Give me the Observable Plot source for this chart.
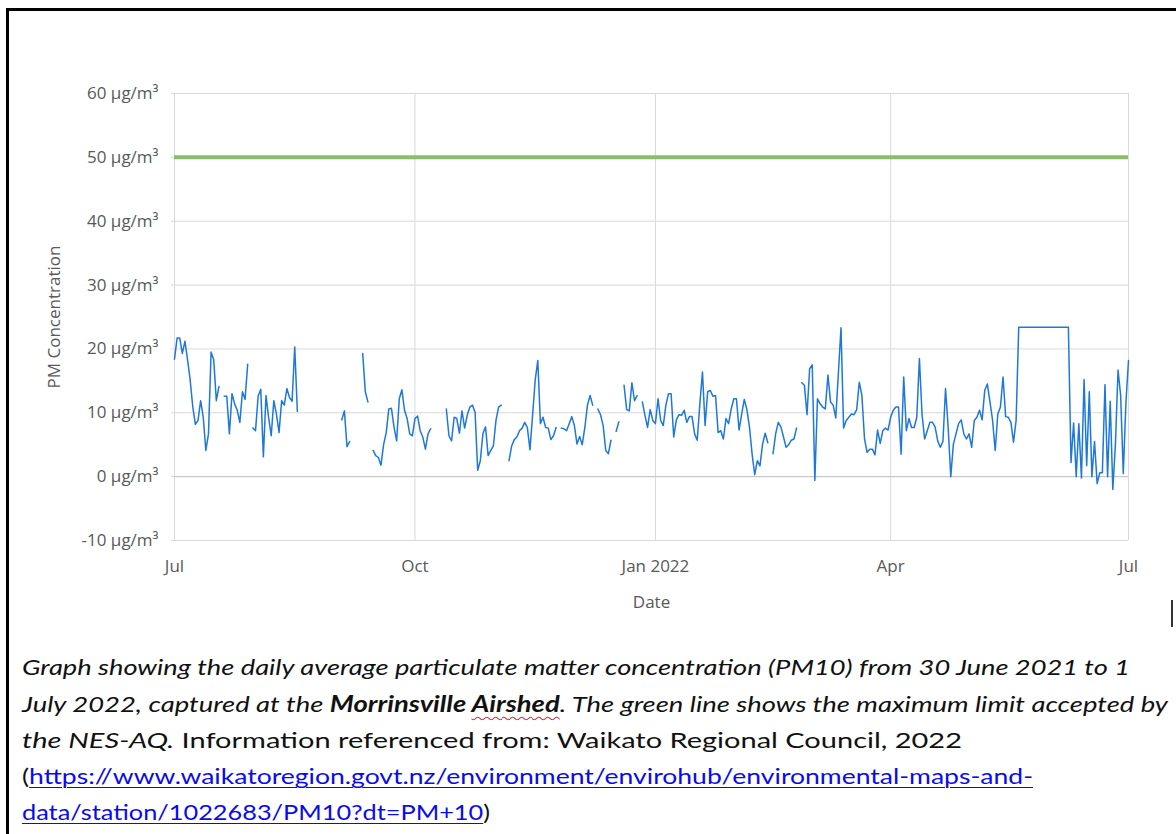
<!DOCTYPE html>
<html>
<head>
<meta charset="utf-8">
<script src="https://cdn.jsdelivr.net/npm/d3@7"></script>
<script src="https://cdn.jsdelivr.net/npm/@observablehq/plot@0.6"></script>
<style>
  html, body { margin: 0; padding: 0; background: #fff; }
  body { width: 1176px; height: 834px; position: relative; overflow: hidden; }
  #chart { position: absolute; left: 0; top: 0; }
  .border-top { position: absolute; left: 6px; top: 8px; width: 1170px; height: 3px; background: #000; }
  .border-left { position: absolute; left: 6px; top: 8px; width: 3px; height: 826px; background: #000; }
  .cursor { position: absolute; left: 1171px; top: 600px; width: 2px; height: 27px; background: #333; }
  .cap { position: absolute; left: 22px; top: 650px; white-space: nowrap; font-family: Lato, "Open Sans", sans-serif;
         font-size: 22px; color: #111; transform-origin: 0 0; line-height: 1.2; }
  .cap i { font-style: italic; }
  .cap a { color: #0a0af0; text-decoration: underline; text-decoration-thickness: 1px; text-underline-offset: 3px; }
  .sq { text-decoration: underline wavy #e03030; text-decoration-thickness: 1px; text-underline-offset: 4px; text-decoration-skip-ink: none; }
  .bl { display: inline-block; width: 0; height: 0; vertical-align: baseline; }
</style>
</head>
<body>
<div id="chart"></div>
<div class="border-top"></div>
<div class="border-left"></div>
<div class="cursor"></div>

<div class="cap" id="c1"><span class="bl"></span><i>Graph showing the daily average particulate matter concentration (PM10) from 30 June 2021 to 1</i></div>
<div class="cap" id="c2"><span class="bl"></span><i>July 2022, captured at the <b>Morrinsville <span class="sq">Airshed</span></b>. The green line shows the maximum limit accepted by</i></div>
<div class="cap" id="c3"><span class="bl"></span><i>the NES-AQ.</i> Information referenced from: Waikato Regional Council, 2022</div>
<div class="cap" id="c4"><span class="bl"></span>(<a>https://www.waikatoregion.govt.nz/environment/envirohub/environmental-maps-and-</a></div>
<div class="cap" id="c5"><span class="bl"></span><a>data/station/1022683/PM10?dt=PM+10</a>)</div>

<script>
// ---- Data (daily average PM10, µg/m³; null = no data) ----
const seriesStart = [2021, 6, 1]; // 1 July 2021 (UTC year, monthIndex, day)

const pmJulSep2021 = [
  18.4, 21.7, 21.7, 19.3, 21.2, 18.3, 15.1, 10.9, 8.2, 8.8, 11.9, 9.3, 4.1, 6.7, 19.5, 18.3, 11.9, 14.1,
  null,
  12.6, 12.6, 6.7, 13.0, 11.4, 10.4, 8.5, 13.3, 12.1, 17.6,
  null,
  7.6, 7.2, 12.6, 13.7, 3.1, 12.7, 9.3, 6.4, 11.9, 9.8, 6.9, 11.9, 11.2, 13.8, 12.4, 11.8, 20.3, 10.2,
  null, null, null, null, null, null, null, null, null, null, null, null, null, null, null, null,
  8.9, 10.3, 4.7, 5.5,
  null, null, null, null,
  19.3, 13.3, 11.7,
  null,
  4.1, 3.3, 3.0, 1.8, 5.0, 6.9, 10.6, 10.7, 7.7, 5.6, 12.2, 13.6, 10.4, 9.1, 6.7, 6.4
];

const pmOctDec2021 = [
  9.1, 9.5, 7.2, 6.2, 4.3, 6.7, 7.5,
  null, null, null, null, null,
  10.6, 6.4, 5.6, 9.3, 9.1, 6.8, 10.3, 7.6, 9.6, 10.9, 11.2, 10.1, 1.0, 2.5, 6.7, 7.8, 3.3, 4.1, 4.8, 8.8, 10.9, 11.2,
  null, null,
  2.5, 4.8, 5.8, 6.2, 7.2, 7.6, 8.5, 7.7, 4.2, 9.6, 15.1, 18.2, 8.3, 9.3, 7.7, 7.6, 5.8, 6.4, 7.7,
  null,
  7.6, 7.5, 7.2, 8.3, 9.4, 8.0, 5.1, 6.3, 5.0, 7.7, 11.2, 12.7, 11.2,
  null,
  10.6, 9.7, 8.0, 4.1, 3.6, 5.7,
  null,
  7.1, 8.6,
  null,
  14.3, 10.5, 10.3, 14.7, 11.9, 12.7,
  null,
  11.7, 9.6, 7.7, 10.5, 8.8
];

const pmJanMar2022 = [
  8.3, 12.2, 8.8, 8.0, 11.2,
  13.0, 13.0, 6.2, 8.9, 9.7, 9.6, 10.4, 8.5, 9.4, 9.4, 6.7, 5.7, 11.4, 16.4, 8.0, 13.3, 13.5, 12.6, 12.7, 6.9,
  7.2, 5.9, 9.1, 8.3, 10.6, 12.2, 12.2, 7.3, 9.8, 12.1, 10.5, 7.7, 3.5, 0.3, 2.5, 1.7, 5.1, 6.8, 5.3,
  null,
  3.6, 6.7, 8.5, 7.8, 6.2, 4.6, 5.0, 5.7, 5.9, 7.6,
  null,
  14.7, 14.3, 9.7, 16.9, 17.5, -0.6, 12.2, 11.4, 10.9, 10.6, 15.9, 11.7, 11.2, 9.2, 16.2, 23.3, 7.6, 8.8, 9.3, 9.8,
  9.7, 10.5, 14.8, 12.7, 5.9, 3.8, 4.3, 4.3, 3.4, 7.3, 5.2, 7.2, 7.6, 7.3
];

const pmAprJun2022 = [
  9.3, 10.4, 10.9, 10.9, 3.5, 15.6, 7.2, 9.1, 7.7, 7.7, 9.3, 18.5, 9.8, 5.9, 7.2, 8.5, 8.5, 7.8, 5.6, 4.6,
  5.5, 13.8, 7.7, 0.0, 5.1, 6.7, 8.3, 8.9, 6.7, 5.9,
  6.7, 4.6, 8.8, 9.3, 10.4, 8.9, 13.5, 14.5, 11.7, 8.8, 4.1, 9.8, 10.9, 15.6, 9.4, 9.3, 8.5, 5.4, 8.8,
  23.4, 23.4, 23.4, 23.4, 23.4, 23.4, 23.4, 23.4, 23.4, 23.4, 23.4, 23.4, 23.4, 23.4, 23.4, 23.4, 23.4, 23.4, 23.4, 23.4,
  2.2, 8.4, 0.0, 8.3, -0.2, 15.2, 1.7, 13.3, 0.0, 5.5, -1.1, 0.6, 0.6, 14.4, 0.0, 11.8, -2.0, 5.1, 16.7, 12.7, 0.5, 11.5
];

const pmJul2022 = [18.2];

const limitNESAQ = [50];
const yTicks = [-10, 0, 10, 20, 30, 40, 50, 60];
const yUnit = "µg/m³";
const xTickDates = ["2021-07-01", "2021-10-01", "2022-01-01", "2022-04-01", "2022-07-01"];
const xTickLabels = ["Jul", "Oct", "Jan 2022", "Apr", "Jul"];

// ---- Build table ----
const allValues = [].concat(pmJulSep2021, pmOctDec2021, pmJanMar2022, pmAprJun2022, pmJul2022);
const pmData = allValues.map((v, i) => ({
  date: new Date(Date.UTC(seriesStart[0], seriesStart[1], seriesStart[2] + i)),
  value: v
}));
const xTicks = xTickDates.map(s => new Date(s + "T00:00:00Z"));
const xLabelOf = d => xTickLabels[xTicks.findIndex(t => +t === +d)];

const chart = Plot.plot({
  width: 1176,
  height: 620,
  marginLeft: 174,
  marginRight: 48,
  marginTop: 93,
  marginBottom: 80,
  style: { fontFamily: "'Open Sans', sans-serif", fontSize: "17px", color: "#595959", background: "transparent", overflow: "visible" },
  x: { type: "utc", domain: [xTicks[0], xTicks[xTicks.length - 1]] },
  y: { domain: [yTicks[0], yTicks[yTicks.length - 1]] },
  marks: [
    Plot.gridY(yTicks, { stroke: "#d9d9d9", strokeOpacity: 1 }),
    Plot.gridX(xTicks, { stroke: "#d9d9d9", strokeOpacity: 1 }),
    Plot.ruleY([0], { stroke: "#c4c4c4" }),
    Plot.axisY(yTicks, {
      tickFormat: d => `${d} ${yUnit}`,
      tickSize: 3, stroke: "#d9d9d9", tickPadding: 13,
      label: "PM Concentration", labelAnchor: "center", labelOffset: 127, labelArrow: "none",
      fontSize: 17
    }),
    Plot.axisX(xTicks, {
      tickFormat: xLabelOf,
      tickSize: 0, tickPadding: 19,
      label: "Date", labelAnchor: "center", labelOffset: 67, labelArrow: "none",
      fontSize: 17
    }),
    Plot.ruleY(limitNESAQ, { stroke: "#8dbd6c", strokeWidth: 4 }),
    Plot.lineY(pmData, { x: "date", y: "value", stroke: "#1e78d8", strokeWidth: 1.5 })
  ]
});
document.getElementById("chart").appendChild(chart);

// ---- Caption layout: align baselines and widths ----
const capLines = [
  { id: "c1", baseline: 675, right: 1130 },
  { id: "c2", baseline: 711.5, right: 1168 },
  { id: "c3", baseline: 748, right: 962 },
  { id: "c4", baseline: 784, right: 1033 },
  { id: "c5", baseline: 820, right: 490 }
];
function layoutCaption() {
  capLines.forEach(c => {
    const el = document.getElementById(c.id);
    el.style.transform = "none";
    el.style.top = "650px";
    const r = el.getBoundingClientRect();
    const bl = el.querySelector(".bl").getBoundingClientRect().top;
    el.style.top = (650 + c.baseline - bl) + "px";
    el.style.transform = `scaleX(${(c.right - 22) / r.width})`;
  });
}
layoutCaption();
if (document.fonts && document.fonts.ready) document.fonts.ready.then(layoutCaption);
</script>
</body>
</html>
